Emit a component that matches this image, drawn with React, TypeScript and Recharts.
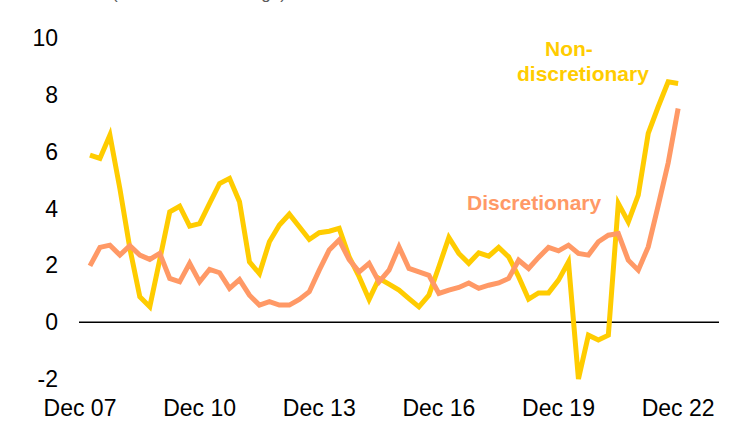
import React from 'react';
import { LineChart, Line, XAxis, YAxis, ReferenceLine, Customized } from 'recharts';

// quarter index: 0 = Dec 07, data runs Mar 08 .. Dec 22
const quarters = Array.from({ length: 60 }, (_, i) => i + 1);

const nonDiscretionary = [
    5.88, 5.76, 6.58, 4.7, 2.6, 0.89, 0.54, 2.2, 3.88, 4.08,
    3.38, 3.47, 4.18, 4.88, 5.06, 4.24, 2.12, 1.71, 2.83, 3.42,
    3.8, 3.36, 2.91, 3.15, 3.2, 3.3, 2.3, 1.6, 0.8, 1.54,
    1.34, 1.13, 0.83, 0.54, 0.95, 1.95, 2.98, 2.42, 2.07, 2.44,
    2.32, 2.63, 2.3, 1.6, 0.81, 1.03, 1.03, 1.48, 2.12, -2.0,
    -0.46, -0.63, -0.46, 4.18, 3.53, 4.47, 6.64, 7.58, 8.46, 8.4,
];

const discretionary = [
    1.98, 2.63, 2.71, 2.36, 2.69, 2.36, 2.21, 2.42, 1.54, 1.42,
    2.07, 1.42, 1.86, 1.74, 1.19, 1.5, 0.95, 0.6, 0.72, 0.6,
    0.6, 0.8, 1.07, 1.83, 2.54, 2.89, 2.2, 1.77, 2.07, 1.42,
    1.83, 2.65, 1.89, 1.77, 1.65, 1.01, 1.13, 1.22, 1.38, 1.19,
    1.3, 1.38, 1.54, 2.18, 1.89, 2.28, 2.63, 2.51, 2.71, 2.42,
    2.36, 2.83, 3.06, 3.12, 2.18, 1.83, 2.65, 4.1, 5.6, 7.52,
];

const xTicks = [0, 12, 24, 36, 48, 60];
const xTickLabels = ['Dec 07', 'Dec 10', 'Dec 13', 'Dec 16', 'Dec 19', 'Dec 22'];
const yTicks = [-2, 0, 2, 4, 6, 8, 10];

const YELLOW = '#FFCC00';
const ORANGE = '#FF9966';
const FONT = 'Arial, "Liberation Sans", sans-serif';

const chartData = quarters.map((q, i) => ({
    q,
    nonDisc: nonDiscretionary[i],
    disc: discretionary[i],
}));

const Annotations = () => (
    <g fontFamily={FONT} fontWeight="bold" fontSize={21}>
        <text x={112} y={-1} fontSize={17} fontWeight="normal" fill="#595959">(annualised % change)</text>
        <text x={545} y={56} fill={YELLOW}>Non-</text>
        <text x={517} y={81} fill={YELLOW}>discretionary</text>
        <text x={467} y={210} fill={ORANGE}>Discretionary</text>
    </g>
);

const App: React.FC = () => {
    return (
        <div style={{ position: 'absolute', left: 0, top: 0 }}>
            <LineChart
                width={744}
                height={422}
                data={chartData}
                margin={{ top: 38, right: 25, bottom: 0, left: 0 }}
            >
                <XAxis
                    dataKey="q"
                    type="number"
                    domain={[-0.1, 64.1]}
                    ticks={xTicks}
                    tickFormatter={(v: number) => xTickLabels[xTicks.indexOf(v)] ?? ''}
                    axisLine={false}
                    tickLine={false}
                    tickSize={0}
                    tickMargin={21}
                    height={43}
                    interval={0}
                    tick={{ fill: '#000', fontSize: 23, fontFamily: FONT }}
                />
                <YAxis
                    type="number"
                    domain={[-2, 10]}
                    ticks={yTicks}
                    axisLine={false}
                    tickLine={false}
                    tickSize={0}
                    tickMargin={21}
                    width={79}
                    interval={0}
                    tick={{ fill: '#000', fontSize: 23, fontFamily: FONT }}
                />
                <ReferenceLine y={0} stroke="#000" strokeWidth={1.5} />
                <Line
                    type="linear"
                    dataKey="nonDisc"
                    stroke={YELLOW}
                    strokeWidth={5}
                    dot={false}
                    isAnimationActive={false}
                />
                <Line
                    type="linear"
                    dataKey="disc"
                    stroke={ORANGE}
                    strokeWidth={5}
                    dot={false}
                    isAnimationActive={false}
                />
                <Customized component={Annotations} />
            </LineChart>
        </div>
    );
};

export default App;
